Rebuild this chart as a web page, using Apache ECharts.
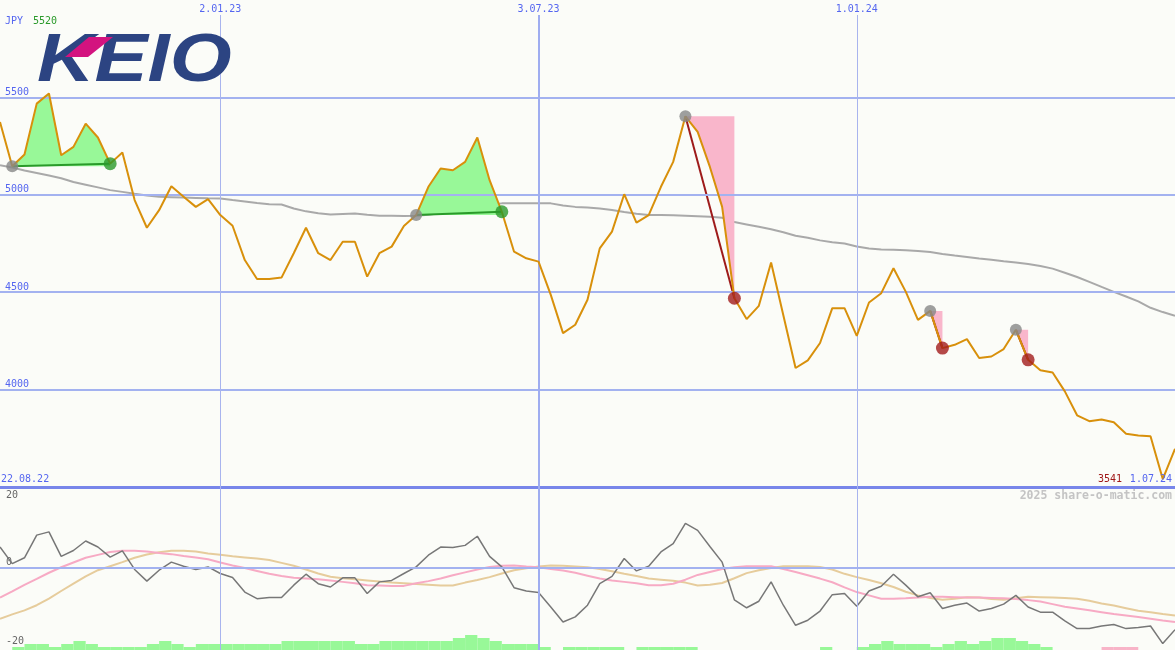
<!DOCTYPE html>
<html><head><meta charset="utf-8">
<script src="https://cdn.jsdelivr.net/npm/echarts@6/dist/echarts.min.js"></script>
<style>html,body{margin:0;padding:0;background:#fbfcf8}#c{width:1175px;height:650px}</style>
</head><body><div id="c"></div>
<script>
// ---------- DATA ----------
const firstWeek = '2022-08-29';   // weekly (Monday) closes
const weekCount = 97;
const gridDates = ['2023-01-02', '2023-07-03', '2024-01-01'];
const priceTicks = [4000, 4500, 5000, 5500];
const oscTicks = [-20, 0, 20];

const price = [5374,5147,5207,5468,5520,5203,5246,5365,5294,5160,
 5217,4973,4831,4921,5044,4990,4938,4978,4896,4841,
 4665,4568,4568,4575,4700,4831,4700,4665,4759,4759,
 4580,4700,4734,4840,4896,5041,5135,5126,5169,5294,
 5075,4913,4708,4674,4657,4486,4290,4333,4461,4725,
 4811,5003,4857,4896,5041,5169,5403,5323,5143,4938,
 4469,4362,4430,4652,4382,4111,4150,4239,4418,4418,
 4276,4447,4495,4623,4503,4358,4404,4213,4230,4259,
 4162,4170,4208,4307,4153,4099,4088,3991,3868,3838,
 3846,3832,3773,3764,3761,3541,3696];

const movingAvg = [5152,5140,5125,5112,5099,5085,5066,5052,5038,5024,
 5015,5005,4996,4990,4988,4986,4984,4982,4981,4973,
 4966,4958,4951,4950,4930,4915,4905,4899,4902,4904,
 4898,4893,4892,4891,4892,4898,4906,4913,4921,4936,
 4950,4956,4956,4956,4956,4956,4945,4938,4935,4930,
 4922,4912,4903,4896,4896,4895,4893,4890,4887,4882,
 4860,4848,4836,4823,4808,4790,4780,4766,4757,4750,
 4735,4724,4719,4718,4715,4712,4706,4696,4688,4681,
 4673,4667,4659,4652,4645,4635,4621,4600,4578,4553,
 4527,4502,4478,4453,4420,4398,4379];

const oscillator = [5.75,1.2,2.8,9.0,9.9,3.2,4.8,7.4,5.75,3.0,
 4.7,-0.4,-3.6,-0.6,1.6,0.5,-0.4,0.3,-1.5,-2.6,
 -6.6,-8.4,-8.1,-8.1,-4.7,-1.7,-4.3,-5.2,-2.7,-2.7,
 -7.0,-3.8,-3.4,-1.5,0.3,3.5,5.75,5.6,6.2,8.7,
 3.2,0.3,-5.4,-6.3,-6.7,-10.7,-14.8,-13.4,-10.2,-4.3,
 -2.3,2.6,-0.8,0.5,4.4,6.7,12.2,10.3,5.9,1.6,
 -8.7,-10.9,-9.1,-3.8,-10.2,-15.7,-14.3,-11.8,-7.3,-7.0,
 -10.5,-6.3,-5.0,-1.7,-4.7,-7.9,-6.8,-11.1,-10.2,-9.6,
 -11.8,-11.1,-9.9,-7.5,-10.7,-12.1,-12.1,-14.5,-16.6,-16.6,
 -15.9,-15.5,-16.6,-16.3,-15.9,-20.7,-16.9];

const signalFast = [-8.1,-6.4,-4.6,-3.0,-1.3,0.2,1.5,2.8,3.6,4.4,
 4.7,4.7,4.5,4.1,3.8,3.3,2.9,2.4,1.5,0.7,
 0.0,-0.8,-1.6,-2.2,-2.7,-2.9,-3.1,-3.4,-3.8,-4.2,
 -4.7,-4.8,-4.9,-4.9,-4.2,-3.6,-2.9,-2.0,-1.2,-0.4,
 0.3,0.6,0.7,0.4,0.2,-0.3,-0.7,-1.3,-2.1,-2.9,
 -3.4,-3.8,-4.2,-4.7,-4.7,-4.3,-3.2,-1.9,-1.1,-0.3,
 0.2,0.5,0.5,0.5,-0.3,-1.1,-2.0,-2.9,-3.9,-5.3,
 -6.6,-7.5,-8.4,-8.4,-8.3,-8.1,-7.9,-7.9,-8.0,-8.1,
 -8.1,-8.2,-8.3,-8.5,-8.8,-9.2,-9.9,-10.6,-11.1,-11.6,
 -12.1,-12.6,-13.0,-13.4,-13.9,-14.4,-14.8];

const signalSlow = [-13.9,-12.7,-11.6,-10.2,-8.4,-6.3,-4.3,-2.3,-0.6,0.5,
 1.6,2.8,3.7,4.3,4.7,4.7,4.5,4.0,3.6,3.2,
 2.9,2.6,2.2,1.4,0.6,-0.4,-1.5,-2.4,-2.8,-3.1,
 -3.4,-3.7,-4.0,-4.2,-4.4,-4.6,-4.8,-4.8,-4.0,-3.3,
 -2.5,-1.5,-0.6,-0.1,0.4,0.7,0.6,0.4,0.2,-0.3,
 -0.9,-1.6,-2.2,-2.9,-3.2,-3.5,-4.0,-4.8,-4.6,-4.1,
 -2.8,-1.4,-0.6,0.0,0.5,0.5,0.5,0.3,-0.4,-1.6,
 -2.5,-3.3,-4.2,-5.2,-6.5,-7.5,-8.2,-8.7,-8.4,-8.0,
 -8.1,-8.5,-8.7,-8.3,-7.9,-8.0,-8.1,-8.2,-8.4,-9.0,
 -9.7,-10.3,-11.0,-11.7,-12.1,-12.6,-13.0];

// weekly histogram levels (between consecutive weeks); negative = pink
const histogram = [0,1,2,2,1,2,3,2,1,1,
 1,1,2,3,2,1,2,2,2,2,
 2,2,2,3,3,3,3,3,3,2,
 2,3,3,3,3,3,3,4,5,4,
 3,2,2,2,1,0,1,1,1,1,
 1,0,1,1,1,1,1,0,0,0,
 0,0,0,0,0,0,0,1,0,0,
 1,2,3,2,2,2,1,2,3,2,
 3,4,4,3,2,1,0,0,0,0,
 -1,-1,-1,0,0,0];

// trades: week index of entry and exit
const tradeStart = [1, 34, 56, 76, 83];
const tradeEnd   = [9, 41, 60, 77, 84];

const firstLabel = '22.08.22';
const lastLabel = '1.07.24';

// ---------- BUILD ----------
const dates = [];
{
  const d0 = new Date(firstWeek + 'T00:00:00Z');
  for (let i = 0; i < weekCount; i++) {
    const d = new Date(d0.getTime() + i * 7 * 86400000);
    dates.push(d.toISOString().slice(0, 10));
  }
}
const bands = dates.slice(0, dates.length - 1);
function fmtDate(s) { const p = s.split('-'); return (+p[2]) + '.' + p[1] + '.' + p[0].slice(2); }

const BG = '#fbfcf8';
const MONO = '"DejaVu Sans Mono", monospace';
const BLUE_TXT = '#5566f0';
const GRID_BLUE = '#a3b2f0';

const series = [];

series.push({
  type: 'line', xAxisIndex: 0, yAxisIndex: 0, data: price, showSymbol: false, silent: true,
  lineStyle: { opacity: 0 }, z: 1,
  markLine: {
    symbol: ['none', 'none'], silent: true, animation: false, label: { show: false },
    lineStyle: { type: 'solid', color: GRID_BLUE, width: 2 },
    data: priceTicks.map(v => ({ yAxis: v })).concat([
      { yAxis: 3500, lineStyle: { type: 'solid', color: '#7886ea', width: 3 } },
      { xAxis: gridDates[0], lineStyle: { type: 'solid', color: '#a8b4ee', width: 1 } },
      { xAxis: gridDates[1], lineStyle: { type: 'solid', color: '#9fadf0', width: 2 } },
      { xAxis: gridDates[2], lineStyle: { type: 'solid', color: '#a8b4ee', width: 1 } }
    ])
  }
});

series.push({
  type: 'line', xAxisIndex: 0, yAxisIndex: 0, data: movingAvg, showSymbol: false, silent: true,
  lineStyle: { color: '#a9a9a9', width: 2 }, z: 2
});

tradeStart.forEach((s, k) => {
  const e = tradeEnd[k];
  const lvl = price[s];
  const win = price[e] > lvl;
  const base = [], delta = [], seg = [];
  for (let i = 0; i < price.length; i++) {
    if (i < s || i > e) { base.push('-'); delta.push('-'); }
    else if (win) { base.push(lvl); delta.push(price[i] - lvl); }
    else { base.push(price[i]); delta.push(lvl - price[i]); }
    seg.push(i === s || i === e ? price[i] : '-');
  }
  series.push({ type: 'line', xAxisIndex: 0, yAxisIndex: 0, stack: 'trade' + k, data: base,
    showSymbol: false, silent: true, lineStyle: { opacity: 0 }, z: 3 });
  series.push({ type: 'line', xAxisIndex: 0, yAxisIndex: 0, stack: 'trade' + k, data: delta,
    showSymbol: false, silent: true, lineStyle: { opacity: 0 },
    areaStyle: { color: win ? '#98f898' : '#f9b6cb', opacity: 1 }, z: 3 });
  series.push({ type: 'line', xAxisIndex: 0, yAxisIndex: 0, data: seg, connectNulls: true,
    showSymbol: false, silent: true,
    lineStyle: { color: win ? '#2a9a2a' : '#9e1b1b', width: 2 }, z: 4 });
});

series.push({
  type: 'line', xAxisIndex: 0, yAxisIndex: 0, data: price, showSymbol: false, silent: true,
  lineStyle: { color: '#d8900b', width: 2 }, z: 5
});

series.push({
  type: 'scatter', xAxisIndex: 0, yAxisIndex: 0, symbolSize: 12, silent: true, z: 6,
  itemStyle: { color: '#878787' },
  data: tradeStart.map(s => [s, price[s]])
});
series.push({
  type: 'scatter', xAxisIndex: 0, yAxisIndex: 0, symbolSize: 13, silent: true, z: 6,
  data: tradeEnd.map((e, k) => ({ value: [e, price[e]],
    itemStyle: { color: price[e] > price[tradeStart[k]] ? '#2a982a' : '#a21c1c' } }))
});

// lower panel guides
series.push({
  type: 'line', xAxisIndex: 2, yAxisIndex: 2, data: dates.map(() => 0), showSymbol: false, silent: true,
  lineStyle: { opacity: 0 }, z: 1,
  markLine: {
    symbol: ['none', 'none'], silent: true, animation: false, label: { show: false },
    data: [
      { xAxis: gridDates[0], lineStyle: { type: 'solid', color: '#a8b4ee', width: 1 } },
      { xAxis: gridDates[1], lineStyle: { type: 'solid', color: '#9fadf0', width: 2 } },
      { xAxis: gridDates[2], lineStyle: { type: 'solid', color: '#a8b4ee', width: 1 } }
    ]
  }
});
series.push({
  type: 'bar', xAxisIndex: 3, yAxisIndex: 2, silent: true, z: 1,
  barWidth: '100%', barCategoryGap: '0%',
  data: histogram.map(v => ({ value: Math.abs(v), itemStyle: { color: v < 0 ? '#f8b4c8' : '#98f898' } }))
});
series.push({
  type: 'line', xAxisIndex: 1, yAxisIndex: 1, data: dates.map(() => '-'), showSymbol: false, silent: true,
  z: 1,
  markLine: {
    symbol: ['none', 'none'], silent: true, animation: false, label: { show: false },
    data: [{ yAxis: 0, lineStyle: { type: 'solid', color: GRID_BLUE, width: 2 } }]
  }
});
series.push({ type: 'line', xAxisIndex: 1, yAxisIndex: 1, data: signalSlow, showSymbol: false, silent: true,
  clip: false, lineStyle: { color: '#e6cc9c', width: 2 }, z: 2 });
series.push({ type: 'line', xAxisIndex: 1, yAxisIndex: 1, data: signalFast, showSymbol: false, silent: true,
  clip: false, lineStyle: { color: '#f7aac4', width: 2 }, z: 3 });
series.push({ type: 'line', xAxisIndex: 1, yAxisIndex: 1, data: oscillator, showSymbol: false, silent: true,
  clip: false, lineStyle: { color: '#777777', width: 1.5 }, z: 4 });

const maxP = Math.max(...price), minP = Math.min(...price);

const option = {
  backgroundColor: BG,
  animation: false,
  grid: [
    { left: 0, right: 0, top: 0, height: 487 },
    { left: 0, right: 0, top: 495, height: 146 },
    { left: 0, right: 0, top: 487, height: 163 }
  ],
  xAxis: [
    { gridIndex: 0, type: 'category', data: dates, boundaryGap: false, position: 'top', z: 10,
      axisLine: { show: false }, axisTick: { show: false }, splitLine: { show: false },
      axisLabel: { inside: true, margin: 0, interval: (i, v) => gridDates.includes(v), formatter: fmtDate,
        color: BLUE_TXT, fontFamily: MONO, fontSize: 10, backgroundColor: BG, padding: [4, 2, 1, 2] } },
    { gridIndex: 1, type: 'category', data: dates, boundaryGap: false, show: false },
    { gridIndex: 2, type: 'category', data: dates, boundaryGap: false, show: false },
    { gridIndex: 2, type: 'category', data: bands, boundaryGap: true, show: false }
  ],
  yAxis: [
    { gridIndex: 0, type: 'value', min: 3500, max: 6000, interval: 500,
      axisLine: { show: false }, axisTick: { show: false }, splitLine: { show: false },
      axisLabel: { inside: true, margin: 5, verticalAlign: 'bottom', color: BLUE_TXT, fontFamily: MONO, fontSize: 10,
        formatter: v => priceTicks.includes(v) ? String(v) : '' } },
    { gridIndex: 1, type: 'value', min: -20, max: 20, interval: 20,
      axisLine: { show: false }, axisTick: { show: false }, splitLine: { show: false },
      axisLabel: { inside: true, margin: 6, color: '#666', fontFamily: MONO, fontSize: 10,
        formatter: v => oscTicks.includes(v) ? (v === 0 ? '{z|0}' : String(v)) : '',
        rich: { z: { color: '#666', fontFamily: MONO, fontSize: 10, padding: [0, 0, 11, 0] } } } },
    { gridIndex: 2, type: 'value', min: 0, max: 54.33, show: false }
  ],
  graphic: [
    { type: 'text', x: 5, y: 21, z: 100, style: { text: 'JPY', fill: BLUE_TXT, font: '10px ' + MONO, verticalAlign: 'middle' } },
    { type: 'text', x: 33, y: 21, z: 100, style: { text: String(maxP), fill: '#2a9a2a', font: '10px ' + MONO, verticalAlign: 'middle' } },
    { type: 'text', x: 1, y: 479, z: 100, style: { text: firstLabel, fill: BLUE_TXT, font: '10px ' + MONO, verticalAlign: 'middle' } },
    { type: 'text', x: 1122, y: 479, z: 100, style: { text: String(minP), fill: '#a01818', font: '10px ' + MONO, align: 'right', verticalAlign: 'middle' } },
    { type: 'text', x: 1172, y: 479, z: 100, style: { text: lastLabel, fill: BLUE_TXT, font: '10px ' + MONO, align: 'right', verticalAlign: 'middle' } },
    { type: 'text', x: 1172, y: 496, z: 100, style: { text: '2025 share-o-matic.com', fill: '#c4c4c4', font: 'bold 11.5px ' + MONO, align: 'right', verticalAlign: 'middle' } },
    { type: 'text', x: 37, y: 62, scaleX: 1.17, z: 100,
      style: { text: 'KEIO', fill: '#2c4482', font: 'italic bold 68px "Liberation Sans", Arial, sans-serif', verticalAlign: 'middle' } },
    { type: 'polygon', z: 101, shape: { points: [[65, 57], [89, 37], [113, 37], [88, 57]] }, style: { fill: '#d3137f' } }
  ],
  series: series
};

const chart = echarts.init(document.getElementById('c'), null, { renderer: 'canvas' });
chart.setOption(option);
</script>
</body></html>
